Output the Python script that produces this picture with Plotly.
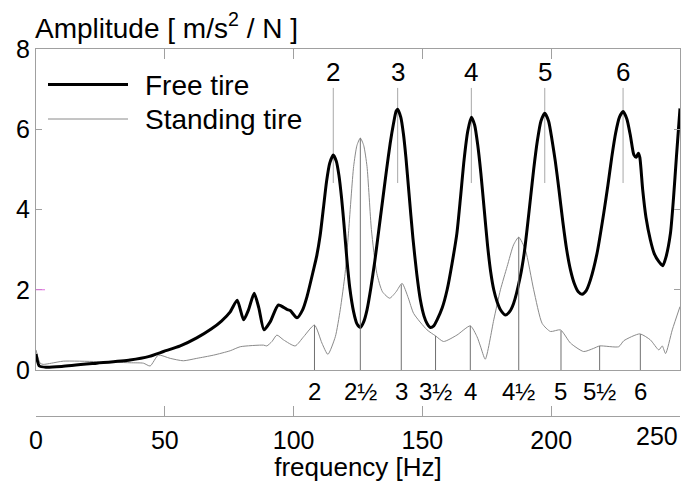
import numpy as np
import plotly.graph_objects as go

# ---------------- data ----------------
free_f = [0, 1.3, 4, 10, 23.6, 36.5, 44, 49.5, 56, 62.4, 68, 72, 75.4, 78.1, 80.6, 82.5, 84.7,
          86.5, 88.5, 90.9, 94.1, 97.4, 98.7, 101.3, 103.5, 105.2, 107.7, 109.0, 110.3, 111.6, 112.8,
          114.0, 115.4, 116.6, 117.6, 118.6, 119.6, 120.7, 121.8, 123.3, 124.6, 125.9,
          127.2, 128.5, 130.0, 131.5, 133.0, 134.5, 136.0, 137.5, 138.8, 139.8, 140.4,
          141.6, 142.6, 143.6, 144.8, 146.3, 147.8, 149.2, 150.6, 151.8, 153.1,
          154.4, 155.7, 157.7, 159.6, 161.5, 163.4, 164.8, 166.2, 167.6, 169.0,
          170.3, 171.5, 172.7, 174.0, 175.3, 176.5, 177.7, 179.0, 180.3, 182.2,
          183.8, 185.4, 188.0, 189.5, 190.6, 192.0, 193.2, 194.6, 196.0, 197.5,
          199.0, 200.4, 201.6, 203.0, 204.5, 206.0, 207.5, 209.0, 210.5, 212.0,
          213.6, 215.2, 217.8, 220.4, 222.0, 223.5, 225.0, 226.5, 227.9,
          229.4, 230.8, 232.1, 233.0, 233.8, 234.4, 235.5, 236.8, 238.5, 240.0, 241.8,
          243.3, 244.5, 246.3, 247.5, 248.6, 250]
free_v = [0.40, 0.10, 0.07, 0.09, 0.17, 0.25, 0.34, 0.46, 0.60, 0.80, 1.02, 1.22, 1.45, 1.74, 1.25,
          1.50, 1.91, 1.55, 1.00, 1.20, 1.62, 1.51, 1.48, 1.30, 1.50, 1.83, 2.49, 2.85, 3.35, 4.05, 4.70,
          5.15, 5.36, 5.20, 4.85, 4.30, 3.60, 2.75, 2.05, 1.45, 1.15, 1.06,
          1.20, 1.50, 2.05, 2.70, 3.45, 4.20, 4.95, 5.65, 6.15, 6.45, 6.50,
          6.30, 5.90, 5.30, 4.40, 3.30, 2.40, 1.75, 1.35, 1.16, 1.06,
          1.10, 1.25, 1.55, 2.00, 2.65, 3.41, 4.30, 5.25, 5.95, 6.30,
          6.10, 5.60, 4.90, 4.00, 3.10, 2.45, 2.00, 1.70, 1.50, 1.37,
          1.45, 1.66, 2.33, 2.90, 3.49, 4.30, 5.00, 5.70, 6.20, 6.40,
          6.20, 5.70, 5.20, 4.50, 3.70, 3.00, 2.49, 2.15, 1.95, 1.89,
          1.98, 2.24, 2.91, 3.91, 4.60, 5.30, 5.90, 6.30, 6.44,
          6.25, 5.82, 5.36, 5.30, 5.40, 5.30, 4.50, 3.80, 3.24, 2.90, 2.70,
          2.60, 2.80, 3.41, 4.30, 5.30, 6.52]

stand_f = [0, 1.6, 2.8, 6, 10.6, 23.6, 36.5, 41.7, 44.3, 47.5, 52.1, 57.2, 62.4, 68.9, 75.4, 79.3,
           88.3, 89.6, 91.6, 93.5, 96.1, 100.6, 103.9, 108.1, 111, 113.3, 116.2, 118.1, 120, 121.3,
           123.3, 124.6, 125.9, 127.2, 128.5, 130.2, 132.3, 134.5, 137.3, 139.8, 142.1, 144.5,
           146.6, 151.8, 155.1, 158.2, 163.4, 168.6, 171.2, 172.5, 174.4, 177.7, 180.3, 182.9,
           185.4, 187.4, 190, 193.2, 196.5, 199.7, 203.6, 207.5, 212.6, 216.5, 218.8, 226.2,
           228.2, 234.4, 238.5, 241.8, 243.1, 244.4, 247, 250]
stand_v = [0.50, 0.17, 0.14, 0.17, 0.22, 0.21, 0.18, 0.17, 0.10, 0.37, 0.29, 0.23, 0.29, 0.37, 0.48,
           0.58, 0.62, 0.60, 0.71, 0.87, 0.75, 0.60, 0.83, 1.12, 0.67, 0.39, 0.83, 1.50, 2.41, 3.41,
           5.07, 5.60, 5.78, 5.60, 5.07, 3.50, 2.41, 1.95, 1.79, 1.95, 2.16, 1.80,
           1.41, 1.00, 0.85, 0.71, 0.87, 1.10, 0.83, 0.60, 0.27, 1.25, 2.00, 2.58,
           3.12, 3.31, 2.99, 2.00, 1.16, 0.96, 1.00, 0.67, 0.46, 0.54, 0.60, 0.58,
           0.73, 0.90, 0.75, 0.50, 0.60, 0.41, 1.00, 1.58]

upper_modes_f = [115.4, 140.4, 169.0, 197.5, 227.9]
upper_labels = ["2", "3", "4", "5", "6"]
upper_line_span = [4.66, 7.03]

lower_modes_f = [108.1, 125.9, 141.8, 155.1, 168.6, 187.4, 203.8, 218.8, 234.6]
lower_labels = ["2", "2½", "3", "3½", "4", "4½", "5", "5½", "6"]

x_ticks = [0, 50, 100, 150, 200, 250]
y_ticks = [0, 2, 4, 6, 8]

FONT = "Liberation Sans, Arial, sans-serif"

# --------------- layout geometry helpers ---------------
W, H = 683, 482
ML, MR, MT, MB = 36, 3, 49, 66
PW, PH = W - ML - MR, H - MT - MB
Y0_PX = 370  # pixel position of y=0
ydom0 = (H - MB - Y0_PX) / PH


def px_x(p):
    return (p - ML) / PW


def px_y(p):
    return (H - MB - p) / PH


fig = go.Figure()

# upper mode marker lines
ux, uy = [], []
for f in upper_modes_f:
    ux += [f, f, None]
    uy += [upper_line_span[0], upper_line_span[1], None]
fig.add_trace(go.Scatter(x=ux, y=uy, mode="lines", line=dict(color="#a8a8a8", width=1),
                         showlegend=False, hoverinfo="skip"))

# lower mode marker lines (from 0 up to the standing tire curve)
lx, ly = [], []
for f in lower_modes_f:
    lx += [f, f, None]
    ly += [0, float(np.interp(f, stand_f, stand_v)), None]
fig.add_trace(go.Scatter(x=lx, y=ly, mode="lines", line=dict(color="#707070", width=1),
                         showlegend=False, hoverinfo="skip", xaxis="x2"))

fig.add_trace(go.Scatter(x=stand_f, y=stand_v, mode="lines", name="Standing tire",
                         line=dict(color="#8a8a8a", width=1, shape="spline", smoothing=0.6),
                         showlegend=False))
fig.add_trace(go.Scatter(x=free_f, y=free_v, mode="lines", name="Free tire",
                         line=dict(color="black", width=3, shape="spline", smoothing=0.6),
                         showlegend=False))

annotations = []
# y title
annotations.append(dict(text="Amplitude [ m/s<sup>2</sup> / N ]", xref="paper", yref="paper",
                        x=px_x(33), y=px_y(46), xanchor="left", yanchor="bottom", showarrow=False,
                        font=dict(family=FONT, size=28, color="black")))
# legend texts
annotations.append(dict(text="Free tire", xref="paper", yref="paper", x=px_x(143), y=px_y(85),
                        xanchor="left", yanchor="middle", showarrow=False,
                        font=dict(family=FONT, size=28, color="black")))
annotations.append(dict(text="Standing tire", xref="paper", yref="paper", x=px_x(143), y=px_y(120),
                        xanchor="left", yanchor="middle", showarrow=False,
                        font=dict(family=FONT, size=28, color="black")))
# upper labels
for f, t in zip(upper_modes_f, upper_labels):
    annotations.append(dict(text=t, xref="x", yref="paper", x=f, y=px_y(72), xanchor="center",
                            yanchor="middle", showarrow=False,
                            font=dict(family=FONT, size=26, color="black")))
# lower labels
for f, t in zip(lower_modes_f, lower_labels):
    annotations.append(dict(text=t, xref="x", yref="paper", x=f, y=px_y(391), xanchor="center",
                            yanchor="middle", showarrow=False,
                            font=dict(family=FONT, size=24, color="black")))
# last x tick label, kept inside the page
annotations.append(dict(text=str(x_ticks[-1]), xref="paper", yref="paper", x=1.0, y=px_y(436),
                        xanchor="right", yanchor="middle", showarrow=False,
                        font=dict(family=FONT, size=25, color="black")))

shapes = [
    dict(type="line", xref="paper", yref="paper", x0=px_x(48), x1=px_x(128), y0=px_y(84.5),
         y1=px_y(84.5), line=dict(color="black", width=3)),
    dict(type="line", xref="paper", yref="paper", x0=px_x(48), x1=px_x(128), y0=px_y(119),
         y1=px_y(119), line=dict(color="#8a8a8a", width=1)),
    dict(type="line", xref="paper", yref="y", x0=0, x1=px_x(45), y0=2, y1=2,
         line=dict(color="#e070e0", width=1)),
]

fig.update_layout(
    width=W, height=H,
    margin=dict(l=ML, r=MR, t=MT, b=MB, pad=0),
    paper_bgcolor="white", plot_bgcolor="white",
    showlegend=False,
    font=dict(family=FONT, color="black"),
    xaxis=dict(range=[0, 250], anchor="y", side="top", showline=True, mirror=True,
               linecolor="#a0a0a0", linewidth=1, ticks="inside", ticklen=10, tickcolor="#a0a0a0",
               tickvals=x_ticks[1:-1], showticklabels=False, showgrid=False, zeroline=False),
    xaxis2=dict(range=[0, 250], overlaying="x", anchor="free", position=0, side="bottom",
                showline=True, linecolor="#a0a0a0", linewidth=1, ticks="inside", ticklen=10,
                tickcolor="#a0a0a0", tickmode="array", tickvals=x_ticks[:-1],
                ticktext=[str(v) for v in x_ticks[:-1]],
                minor=dict(tickmode="array", tickvals=x_ticks[-1:], ticks="inside", ticklen=10,
                           tickcolor="#a0a0a0", showgrid=False),
                tickfont=dict(family=FONT, size=25, color="black"),
                ticklabelstandoff=2,
                showgrid=False, zeroline=False,
                title=dict(text="frequency [Hz]", font=dict(family=FONT, size=26, color="black"),
                           standoff=4)),
    yaxis=dict(range=[0, 8], domain=[ydom0, 1], showline=True, mirror="ticks",
               linecolor="#a0a0a0", linewidth=1, ticks="inside", ticklen=6, tickcolor="#a0a0a0",
               tickvals=y_ticks, tickfont=dict(family=FONT, size=25, color="black"),
               showgrid=False, zeroline=False),
    annotations=annotations,
    shapes=shapes,
)

fig.write_html("out.html")
